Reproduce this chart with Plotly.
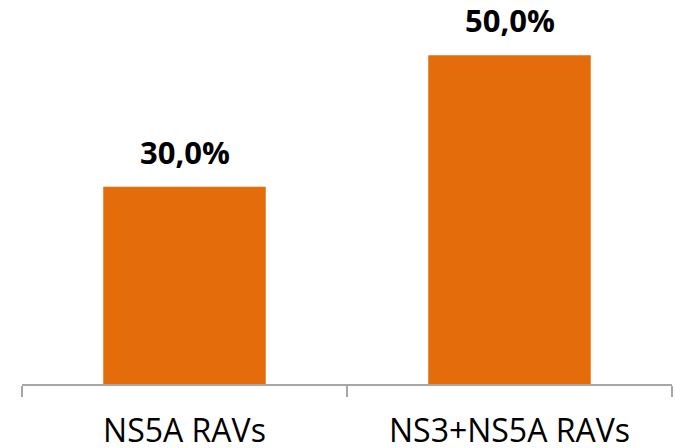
import plotly.graph_objects as go

categories = ["NS5A RAVs", "NS3+NS5A RAVs"]
values = [30.0, 50.0]
labels = ["30,0%", "50,0%"]

bar_color = "#E46C0A"
axis_color = "#A6A6A6"

fig = go.Figure()
fig.add_trace(go.Bar(
    x=categories, y=values, marker=dict(color=bar_color, line=dict(width=0)),
    width=0.5, hoverinfo="skip"
))

for c, v, t in zip(categories, values, labels):
    fig.add_annotation(
        x=c, y=v, text="<b>" + t + "</b>", showarrow=False,
        yanchor="bottom", yshift=12,
        font=dict(family="Open Sans", size=31, color="#000000")
    )

fig.update_layout(
    width=675, height=448,
    margin=dict(l=22, r=3, t=0, b=64),
    paper_bgcolor="white", plot_bgcolor="white",
    showlegend=False,
    separators=",.",
    xaxis=dict(
        showline=True, linecolor=axis_color, linewidth=1.5,
        ticks="outside", tickson="boundaries", ticklen=11, tickcolor=axis_color, tickwidth=1.5,
        tickfont=dict(family="Open Sans", size=32, color="#000000"),
        ticklabelstandoff=18, automargin=False,
        showgrid=False, zeroline=False,
    ),
    yaxis=dict(
        range=[0, 58.4], visible=False, showgrid=False, zeroline=False,
    ),
)

fig.write_html("out.html")
